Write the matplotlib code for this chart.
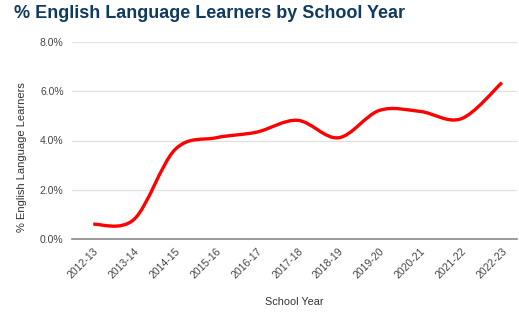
import numpy as np
import matplotlib
matplotlib.use("Agg")
import matplotlib.pyplot as plt
from matplotlib.path import Path
from matplotlib.patches import PathPatch
from matplotlib.ticker import FuncFormatter

plt.rcParams['font.family'] = ['Liberation Sans', 'DejaVu Sans']

# share of English language learners per school year (%)
school_years = ['2012-13', '2013-14', '2014-15', '2015-16', '2016-17', '2017-18',
                '2018-19', '2019-20', '2020-21', '2021-22', '2022-23']
ell_pct = [0.6, 0.8, 3.63, 4.11, 4.34, 4.82, 4.11, 5.22, 5.18, 4.88, 6.35]


def smooth_path(xs, ys):
    # Catmull-Rom segments written as cubic Bezier curves
    pts = np.column_stack([xs, ys]).astype(float)
    verts = [pts[0]]
    codes = [Path.MOVETO]
    n = len(pts)
    for i in range(n - 1):
        p0 = pts[max(i - 1, 0)]
        p1 = pts[i]
        p2 = pts[i + 1]
        p3 = pts[min(i + 2, n - 1)]
        c1 = p1 + (p2 - p0) / 6.0
        c2 = p2 - (p3 - p1) / 6.0
        verts += [c1, c2, p2]
        codes += [Path.CURVE4] * 3
    return Path(verts, codes)


fig = plt.figure(figsize=(5.19, 3.20), dpi=100)
ax = fig.add_axes([72 / 519, 1 - 239 / 320, (517 - 72) / 519, (239 - 42) / 320])

x = np.arange(len(school_years))
ax.add_patch(PathPatch(smooth_path(x, ell_pct), facecolor='none',
                       edgecolor='#ff0000', lw=2.4, capstyle='butt', zorder=3))

ax.set_xlim(-0.52, len(school_years) - 1 + 0.37)
ax.set_ylim(0, 8)
ax.set_yticks([0, 2, 4, 6, 8])
ax.yaxis.set_major_formatter(FuncFormatter(lambda v, p: f'{v:.1f}%'))
ax.set_xticks(x)
ax.set_xticklabels(school_years, rotation=45, ha='right', rotation_mode='anchor')

ax.grid(axis='y', color='#e0e0e0', lw=0.9)
ax.set_axisbelow(True)
for side in ['top', 'right', 'left']:
    ax.spines[side].set_visible(False)
ax.spines['bottom'].set_color('#8a8a8a')
ax.spines['bottom'].set_linewidth(1.2)
ax.tick_params(axis='both', length=0, labelsize=7.5, labelcolor='#444444')
ax.tick_params(axis='y', pad=6)
ax.tick_params(axis='x', pad=5)

ax.set_ylabel('% English Language Learners', fontsize=8, color='#333333')
ax.yaxis.set_label_coords(-0.102, 0.415)
ax.set_xlabel('School Year', fontsize=7.8, color='#333333', labelpad=12)

fig.text(14 / 519, 1 - 14 / 320, '% English Language Learners by School Year',
         fontsize=13, fontweight='bold', color='#0f3a62', ha='left', va='center')

fig.savefig('out.png', dpi=100)
